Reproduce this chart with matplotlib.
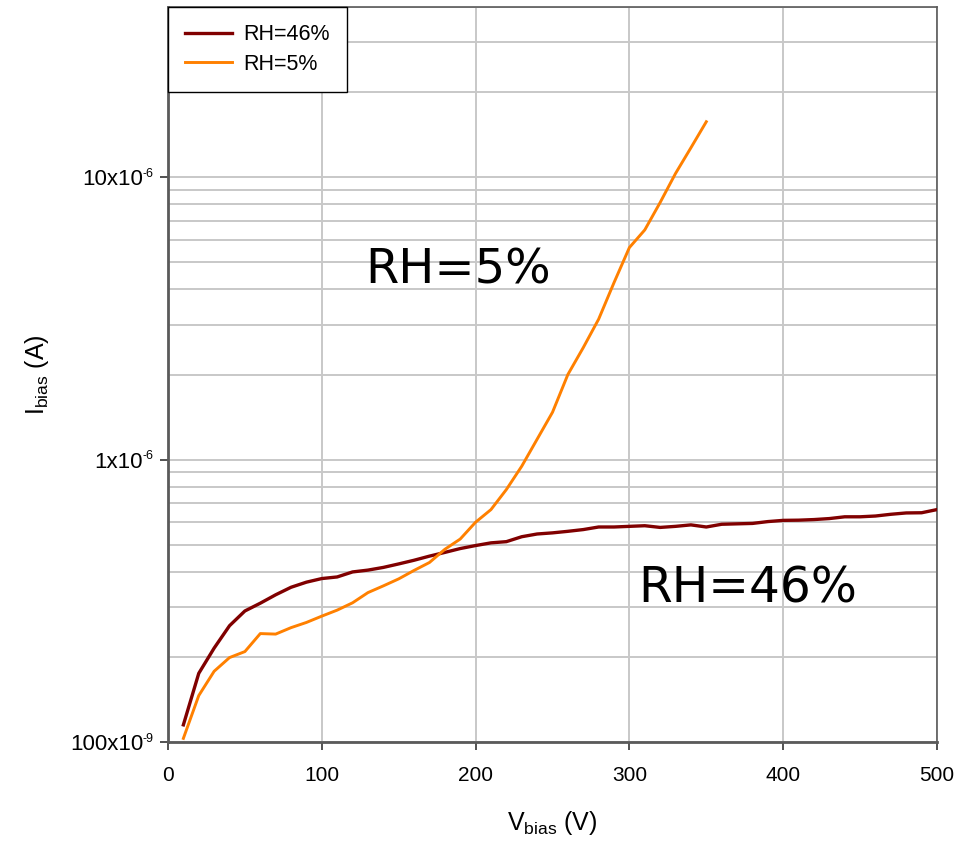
import matplotlib
matplotlib.use("Agg")
import matplotlib.pyplot as plt
import numpy as np
from matplotlib.ticker import FixedLocator, LogLocator, NullFormatter

plt.rcParams['font.family'] = ['Liberation Sans', 'DejaVu Sans']
plt.rcParams['mathtext.fontset'] = 'custom'
plt.rcParams['mathtext.rm'] = 'Liberation Sans'
plt.rcParams['mathtext.it'] = 'Liberation Sans'
plt.rcParams['axes.unicode_minus'] = False

# ---- data ----
v_46 = [10, 20, 30, 40, 50, 60, 70, 80, 90, 100, 110, 120, 130, 140, 150, 160, 170, 180, 190, 200,
        210, 220, 230, 240, 250, 260, 270, 280, 290, 300, 310, 320, 330, 340, 350, 360, 370, 380, 390, 400,
        410, 420, 430, 440, 450, 460, 470, 480, 490, 500]
i_46 = [1.15e-7, 1.75e-7, 2.15e-7, 2.58e-7, 2.91e-7, 3.10e-7, 3.32e-7, 3.53e-7, 3.68e-7, 3.79e-7,
        3.84e-7, 4.00e-7, 4.06e-7, 4.15e-7, 4.27e-7, 4.40e-7, 4.55e-7, 4.69e-7, 4.84e-7, 4.96e-7,
        5.07e-7, 5.12e-7, 5.33e-7, 5.45e-7, 5.50e-7, 5.57e-7, 5.65e-7, 5.77e-7, 5.77e-7, 5.80e-7,
        5.83e-7, 5.75e-7, 5.80e-7, 5.87e-7, 5.77e-7, 5.90e-7, 5.92e-7, 5.94e-7, 6.03e-7, 6.09e-7,
        6.10e-7, 6.13e-7, 6.18e-7, 6.27e-7, 6.27e-7, 6.31e-7, 6.40e-7, 6.47e-7, 6.48e-7, 6.65e-7]

v_5 = [10, 20, 30, 40, 50, 60, 70, 80, 90, 100, 110, 120, 130, 140, 150, 160, 170, 180, 190, 200,
       210, 220, 230, 240, 250, 260, 270, 280, 290, 300, 310, 320, 330, 340, 350]
i_5 = [1.03e-7, 1.46e-7, 1.78e-7, 1.99e-7, 2.09e-7, 2.42e-7, 2.41e-7, 2.54e-7, 2.65e-7, 2.79e-7,
       2.93e-7, 3.11e-7, 3.38e-7, 3.57e-7, 3.78e-7, 4.05e-7, 4.32e-7, 4.81e-7, 5.23e-7, 6.00e-7,
       6.65e-7, 7.83e-7, 9.47e-7, 1.18e-6, 1.47e-6, 2.00e-6, 2.49e-6, 3.14e-6, 4.23e-6, 5.63e-6,
       6.50e-6, 8.13e-6, 1.03e-5, 1.27e-5, 1.57e-5]

labels = ["RH=46%", "RH=5%"]
x_ticks = [0, 100, 200, 300, 400, 500]
y_ticks = [1e-7, 1e-6, 1e-5]
y_tick_mant = ["100x10", "1x10", "10x10"]
y_tick_exp = ["-9", "-6", "-6"]

# ---- figure ----
fig = plt.figure(figsize=(9.66, 8.42), dpi=100)
ax = fig.add_axes([168 / 966, 1 - 742 / 842, (937 - 168) / 966, (742 - 7) / 842])

ax.plot(v_46, i_46, color="#800000", lw=2.4, label=labels[0], zorder=3)
ax.plot(v_5, i_5, color="#FF8000", lw=2.1, label=labels[1], zorder=3)

ax.set_yscale("log")
ax.set_xlim(0, 500)
ax.set_ylim(1e-7, 4e-5)

ax.xaxis.set_major_locator(FixedLocator(x_ticks))
ax.set_xticklabels([str(t) for t in x_ticks], fontsize=15)
ax.yaxis.set_major_locator(FixedLocator(y_ticks))
ax.set_yticklabels(y_tick_mant, fontsize=16)
ax.yaxis.set_minor_locator(LogLocator(base=10, subs=np.arange(2, 10)))
ax.yaxis.set_minor_formatter(NullFormatter())

ax.tick_params(axis="both", which="major", direction="out", length=6, width=1.2,
               color="#333333")
ax.tick_params(axis="x", which="major", pad=11)
ax.tick_params(axis="y", which="major", pad=12)
ax.tick_params(axis="y", which="minor", length=0)

# superscript exponents of the y tick labels
ytrans = ax.get_yaxis_transform()
for yv, ex in zip(y_ticks, y_tick_exp):
    ax.annotate(ex, xy=(0, yv), xycoords=ytrans, xytext=(-18.3, 6.8),
                textcoords="offset points", ha="left", va="top", fontsize=9,
                annotation_clip=False)

ax.grid(True, which="major", axis="x", color="#C8C8C8", lw=1.4)
ax.grid(True, which="both", axis="y", color="#C8C8C8", lw=1.4)
ax.set_axisbelow(True)

for side in ["left", "bottom"]:
    ax.spines[side].set_color("#5A5A5A")
    ax.spines[side].set_linewidth(2)
for side in ["top", "right"]:
    ax.spines[side].set_color("#5A5A5A")
    ax.spines[side].set_linewidth(1.2)

ax.set_xlabel(r"V$_{\mathrm{bias}}$ (V)", fontsize=18)
ax.xaxis.set_label_coords(0.5, -(822 + 15 - 742) / 735)
ax.xaxis.label.set_va("bottom")
ax.set_ylabel(r"I$_{\mathrm{bias}}$ (A)", fontsize=18)
ax.yaxis.set_label_coords((51 - 168) / 769, 0.5)

ax.text(128, 4.2e-6, "RH=5%", fontsize=34.5, family=["DejaVu Sans"],
        ha="left", va="baseline", color="black")
ax.text(306, 3.11e-7, "RH=46%", fontsize=35, family=["DejaVu Sans"],
        ha="left", va="baseline", color="black")

leg = ax.legend(loc="upper left", bbox_to_anchor=(0, 1), borderaxespad=0,
                fontsize=15.5, fancybox=False, edgecolor="black", framealpha=1,
                handlelength=2.15, handletextpad=0.55, borderpad=0.8, labelspacing=0.4)
leg.get_frame().set_linewidth(1.0)

fig.savefig("out.png", dpi=100)
